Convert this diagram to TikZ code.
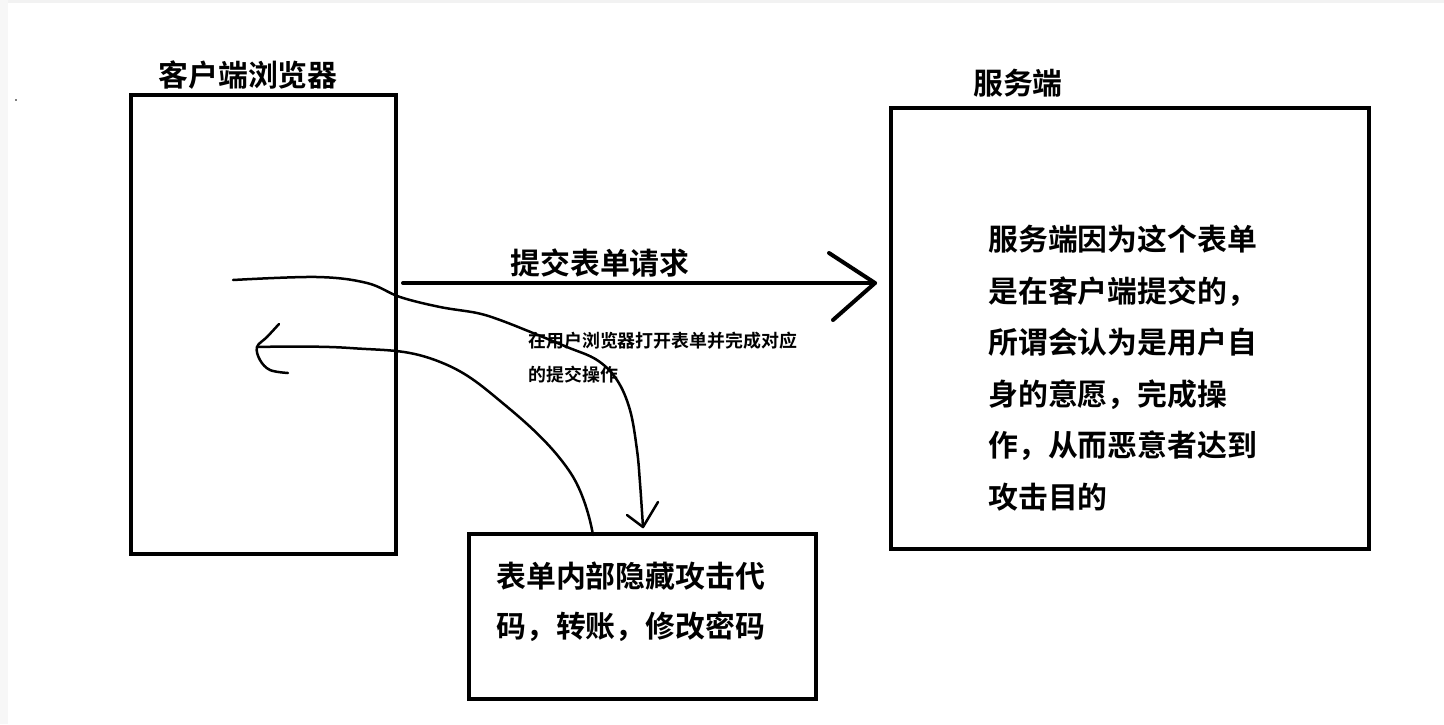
\documentclass[tikz,border=0pt]{standalone}
\usepackage{fontspec}
\newfontfamily\cjk{Noto Sans CJK SC Bold}
\begin{document}
\begin{tikzpicture}[x=0.02cm,y=-0.02cm,
  box/.style={draw,line width=0.085cm,rectangle,inner sep=0},
  big/.style={font=\cjk\fontsize{17}{29.3}\selectfont,inner sep=0},
  small/.style={font=\cjk\fontsize{10.2}{19.3}\selectfont,inner sep=0},
  thick line/.style={line width=0.08cm,line cap=round,line join=round},
  hand/.style={line width=0.05cm,line cap=round,line join=round}]
\useasboundingbox (0,0) rectangle (1444,724);
\fill[gray!10] (0,0) rectangle (1444,3);
\fill[gray!6] (0,0) rectangle (8,724);
\fill (16,100) circle (0.8);
% boxes
\node[box,minimum width=5.3cm,minimum height=9.18cm] (client) at (263.5,324.5) {};
\node[box,minimum width=9.56cm,minimum height=8.82cm] (server) at (1130,328.5) {};
\node[box,minimum width=6.94cm,minimum height=3.3cm] (form) at (642.5,616.5) {};
% titles
\node[big] (t1) at (248,75) {客户端浏览器};
\node[big] (t2) at (1018,83) {服务端};
% main arrow
\coordinate (a1) at (403,283);
\coordinate (a2) at (875,283);
\draw[thick line] (a1) -- (a2);
\draw[thick line] (829,253) -- (a2) -- (833,320);
\node[big] (req) at (600,263) {提交表单请求};
% texts
\node[small,anchor=west,align=left] (note) at (528,341) {在用户浏览器打开表单并完成对应};
\node[small,anchor=west] (note2) at (528,375) {的提交操作};
\node[big,anchor=north west,align=left] (stext) at (988,225)
  {服务端因为这个表单\\是在客户端提交的，\\所谓会认为是用户自\\身的意愿，完成操\\作，从而恶意者达到\\攻击目的};
\node[big,anchor=north west,align=left,font=\cjk\fontsize{17}{28.45}\selectfont] (ftext) at (496,562)
  {表单内部隐藏攻击代\\码，转账，修改密码};
% curve 1 (to form)
\coordinate (c1s) at (233,280);
\coordinate (c1e) at (643,527);
\draw[hand] plot[smooth,tension=0.6] coordinates {(c1s) (317,277) (367,283) (400,297) (440,307) (477,313) (500,320) (533,333) (567,347) (597,360) (617,380) (630,410) (637,450) (640,483) (c1e)};
\draw[hand] (627,515) -- (c1e) -- (658,502);
% curve 2 (back to client)
\coordinate (c2s) at (593,535);
\coordinate (c2e) at (257,347);
\draw[hand] plot[smooth,tension=0.7] coordinates {(c2s) (570,472) (505,405) (435,360) (350,348) (c2e)};
\draw[hand] plot[smooth,tension=0.6] coordinates {(279,324) (267,337) (c2e) (260,360) (270,370) (288,373)};
\end{tikzpicture}
\end{document}
